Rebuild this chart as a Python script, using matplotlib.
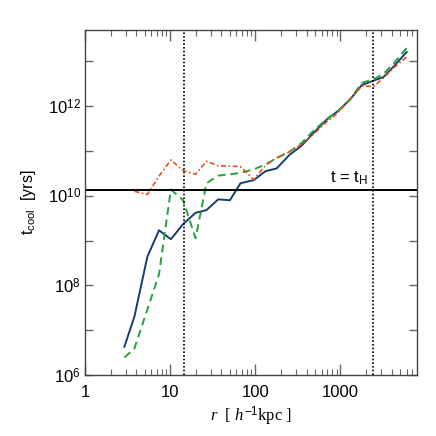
import numpy as np
import matplotlib
matplotlib.use('Agg')
import matplotlib.pyplot as plt
from matplotlib.ticker import FixedLocator, FuncFormatter, LogLocator, NullFormatter

plt.rcParams['font.family'] = ['Liberation Sans', 'DejaVu Sans']
plt.rcParams['mathtext.fontset'] = 'custom'
plt.rcParams['mathtext.rm'] = 'Liberation Sans'
plt.rcParams['mathtext.it'] = 'Liberation Serif:italic'
plt.rcParams['mathtext.sf'] = 'Liberation Sans'

# radius grid [h^-1 kpc]
r = [2.9, 3.8, 5.4, 7.4, 10.2, 14.2, 19.9, 26.7, 36.7, 50.3, 67, 96, 132,
     178, 251, 351, 481, 690, 947, 1300, 1780, 2450, 3200, 4200, 6000]

# log10 t_cool [yrs]
log_t_solid = [6.63, 7.30, 8.64, 9.23, 9.03, 9.37, 9.62, 9.68, 9.92, 9.90,
               10.28, 10.35, 10.55, 10.61, 10.91, 11.12, 11.40, 11.70, 11.90,
               12.15, 12.47, 12.57, 12.65, 12.88, 13.21]
log_t_dashed = [6.39, 6.59, 7.46, 8.25, 10.14, 9.90, 9.05, 10.28, 10.45, 10.48,
                10.51, 10.59, 10.70, 10.84, 10.98, 11.18, 11.45, 11.71, 11.90,
                12.15, 12.52, 12.60, 12.72, 12.95, 13.30]
r_dashdot = r[1:]
log_t_dashdot = [10.10, 10.03, 10.44, 10.80, 10.56, 10.48, 10.77, 10.67, 10.66,
                 10.65, 10.36, 10.68, 10.85, 10.98, 11.15, 11.37, 11.65, 11.86,
                 12.16, 12.45, 12.44, 12.63, 12.85, 13.10]

t_hubble = 1.36e10
r_vlines = [14.6, 2400]

fig = plt.figure(figsize=(4.36, 4.36), dpi=100)
ax = fig.add_axes([0.195, 0.14, 0.761, 0.791])

ax.plot(r, 10 ** np.array(log_t_solid), color='#143e6e', lw=1.4)
ax.plot(r, 10 ** np.array(log_t_dashed), color='#22a33a', lw=1.4, ls=(0, (4, 2.5)))
ax.plot(r_dashdot, 10 ** np.array(log_t_dashdot), color='#e2531e', lw=1.2,
        ls=(0, (3, 1.5, 1, 1.5)))

ax.axhline(t_hubble, color='black', lw=1.4)
for xv in r_vlines:
    ax.axvline(xv, color='black', lw=1.2, ls=(0, (1, 1.2)))

ax.text(755, 1.95e10, r't = t$_\mathrm{H}$', fontsize=12, ha='left', va='baseline')

ax.set_xscale('log')
ax.set_yscale('log')
ax.set_xlim(1, 7900)
ax.set_ylim(1e6, 5e13)

ax.yaxis.set_major_locator(FixedLocator([1e6, 1e8, 1e10, 1e12]))
ax.yaxis.set_minor_locator(FixedLocator([1e7, 1e9, 1e11, 1e13]))
ax.yaxis.set_major_formatter(FuncFormatter(lambda v, p: r'$10^{%d}$' % round(np.log10(v))))
ax.yaxis.set_minor_formatter(NullFormatter())

ax.xaxis.set_major_locator(FixedLocator([1, 10, 100, 1000]))
ax.xaxis.set_minor_locator(LogLocator(base=10, subs=np.arange(2, 10)))
ax.xaxis.set_major_formatter(FuncFormatter(lambda v, p: '%d' % v))
ax.xaxis.set_minor_formatter(NullFormatter())

for s in ax.spines.values():
    s.set_color('#444444')
    s.set_linewidth(1.0)

ax.tick_params(which='both', direction='in', top=True, right=True, color='#666666',
               labelsize=12)
ax.tick_params(axis='x', which='major', length=8, width=1.0, pad=7)
ax.tick_params(axis='x', which='minor', length=4, width=0.8)
ax.tick_params(axis='y', which='both', length=6, width=1.0, pad=3)

ax.set_xlabel(r'$r$  [ $h^{-1}$kpc ]', fontsize=12, family='Liberation Serif', labelpad=4)
ax.set_ylabel(r't$_\mathrm{cool}$  [yrs]', fontsize=11.5, labelpad=7)

fig.savefig('out.png', dpi=100)
